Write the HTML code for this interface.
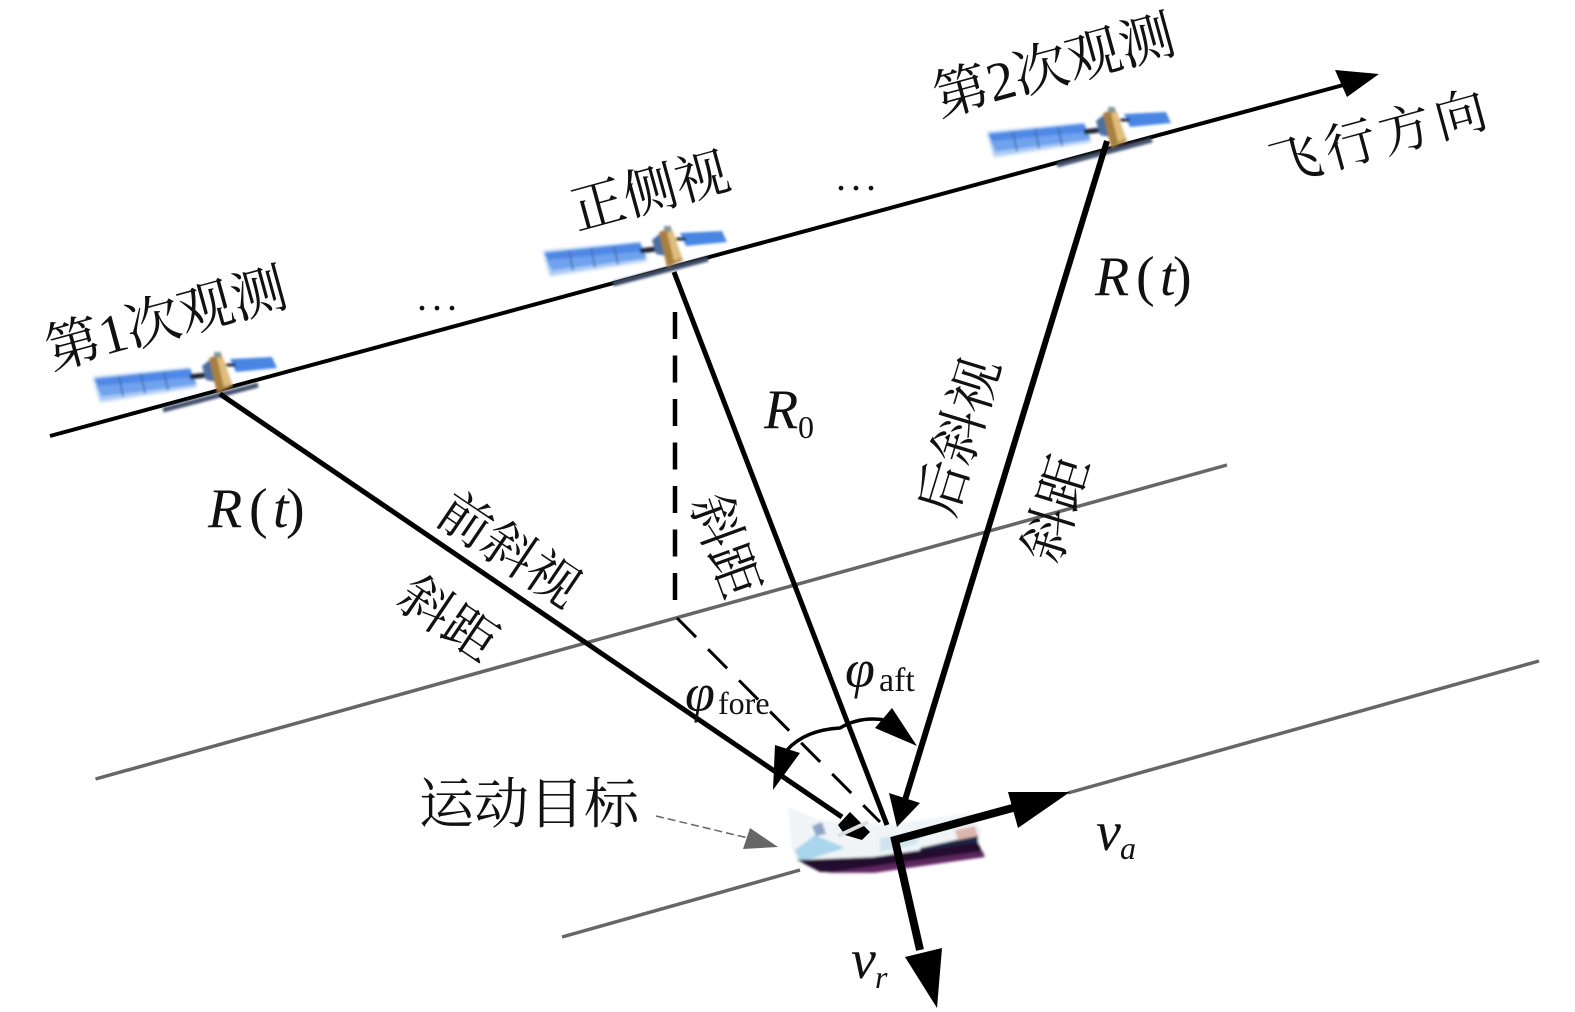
<!DOCTYPE html>
<html><head><meta charset="utf-8"><style>
html,body{margin:0;padding:0;background:#fff}
svg{display:block}
text{font-family:"Liberation Serif","Noto Serif CJK SC",serif;fill:#111}
.c{font-size:54px;text-anchor:middle}
.m{font-size:56px;font-style:italic}
.s{font-size:32px;font-style:italic}
.r{font-size:32px;font-style:normal}
.n{font-style:normal}
</style></head><body>
<svg width="1575" height="1012" viewBox="0 0 1575 1012" xmlns="http://www.w3.org/2000/svg">
<defs>
<filter id="b" x="-10%" y="-20%" width="120%" height="140%"><feGaussianBlur stdDeviation="1.3"/></filter>
<filter id="b3" x="-10%" y="-20%" width="120%" height="140%"><feGaussianBlur stdDeviation="1.8"/></filter>
<g id="sat">
<polygon points="93,377 190,368 197,387 100,402" fill="#a9c8f3" filter="url(#b3)"/>
<g filter="url(#b)">
<polygon points="95,379 190,369 196,384 102,396" fill="#4f88e6"/>
<polygon points="97,386 194,377 196,384 102,396" fill="#6fa2ee"/>
<line x1="119" y1="377" x2="123" y2="396" stroke="#3f6aa8" stroke-width="1.5"/>
<line x1="141" y1="374" x2="145" y2="393" stroke="#3f6aa8" stroke-width="1.5"/>
<line x1="164" y1="372" x2="168" y2="390" stroke="#3f6aa8" stroke-width="1.5"/>
<polygon points="230,359 272,357 277,368 236,372" fill="#4a86e4"/>
<line x1="190" y1="377" x2="206" y2="375" stroke="#1a2230" stroke-width="5"/>
<line x1="226" y1="365" x2="236" y2="365" stroke="#1a2230" stroke-width="3"/>
<polygon points="202,366 212,358 216,382 206,380" fill="#4d6f9e"/>
<polygon points="209,358 221,354 233,386 217,393" fill="#a87f3c"/>
<polygon points="217,358 223,357 232,384 224,387" fill="#e0bd7c"/>
<rect x="214" y="352" width="7" height="5" fill="#7f9a9a"/>
<line x1="163" y1="410" x2="258" y2="385" stroke="#3f4f6a" stroke-width="5"/>
</g>
</g>
</defs>

<!-- gray ground lines -->
<g stroke="#666" stroke-width="3.5" fill="none">
<line x1="95.5" y1="779" x2="1227" y2="465"/>
<line x1="562" y1="937" x2="800" y2="870"/>
<line x1="1068" y1="793" x2="1539" y2="661"/>
</g>

<!-- ship -->
<g filter="url(#b)">
<polygon points="788,807 820,820 887,825 970,813 982,830 978,850 797,863 792,850" fill="#f0f4f7"/>
<polygon points="795,850 815,835 845,848 800,862" fill="#a9d6ec"/>
<polygon points="812,826 822,822 826,834 816,836" fill="#8ea4c6"/>
<polygon points="880,838 925,832 915,845 880,852" fill="#cfe4ef"/>
<polygon points="920,848 978,835 978,848 920,858" fill="#1c2748"/>
<polygon points="955,830 975,826 978,836 958,840" fill="#dcb6ae"/>
<polygon points="797,860 873,857 978,842 984,857 873,872 820,872" fill="#24102e"/>
<polygon points="875,866 983,851 985,857 875,873 825,873" fill="#6b2a6b" opacity=".8"/>
</g>

<!-- flight line -->
<line x1="50" y1="436" x2="1347" y2="84" stroke="#000" stroke-width="4"/>
<polygon points="1379,74 1335,70 1347,97" fill="#000"/>

<!-- satellites -->
<use href="#sat"/>
<use href="#sat" transform="translate(450,-126)"/>
<use href="#sat" transform="translate(894,-245)"/>

<!-- slant ranges -->
<g stroke="#000" fill="none">
<line x1="220" y1="394" x2="842" y2="817" stroke-width="5"/>
<line x1="674" y1="272" x2="887" y2="825" stroke-width="5"/>
<line x1="1107" y1="141" x2="905" y2="800" stroke-width="6"/>
<line x1="675" y1="312" x2="675" y2="600" stroke-width="4.5" stroke-dasharray="27 16.5"/>
<line x1="677" y1="618" x2="880" y2="822" stroke-width="3" stroke-dasharray="27 17"/>
<path d="M787,750 Q805,730 840,728 Q860,716 885,720" stroke-width="3.5"/>
</g>
<polygon points="889,793 920,803 897,827" fill="#000"/>
<polygon points="773,790 775,745 800,753" fill="#000"/>
<polygon points="917,746 892,708 875,728" fill="#000"/>
<polygon points="850,812 870,832 862,840 845,835 838,825" fill="#000"/>
<line x1="838" y1="836" x2="868" y2="822" stroke="#ddd" stroke-width="4"/>

<!-- velocities -->
<polyline points="1020,806 895,840 920,950" stroke="#000" stroke-width="8" fill="none"/>
<polygon points="1070,792 1008,792 1018,828" fill="#000"/>
<polygon points="937,1008 905,957 942,948" fill="#000"/>

<!-- pointer -->
<line x1="656" y1="816" x2="748" y2="838" stroke="#666" stroke-width="1.5" stroke-dasharray="8 4"/>
<polygon points="778,847 750,828 743,849" fill="#666"/>

<!-- Chinese labels -->
<text class="c" style="font-size:55px" transform="translate(171,337) rotate(-15.3)">第1次观测</text>
<text class="c" transform="translate(655,209) rotate(-15.3)">正侧视</text>
<text class="c" style="font-size:55px" transform="translate(1059,84) rotate(-15.3)">第2次观测</text>
<text class="c" style="font-size:52px;letter-spacing:5px" transform="translate(1385,154) rotate(-15.3)">飞行方向</text>
<text class="c" style="font-size:55px" x="529" y="823">运动目标</text>
<text class="c" style="font-size:53px" transform="translate(499,565) rotate(34)">前斜视</text>
<text class="c" style="font-size:53px" transform="translate(438,634) rotate(34)">斜距</text>
<text class="c" style="font-size:53px" transform="translate(708,552) rotate(70)">斜距</text>
<text class="c" transform="translate(977,442) rotate(-73)">后斜视</text>
<text class="c" transform="translate(1074,514) rotate(-73)">斜距</text>

<!-- dots -->
<text x="417" y="310" font-size="40" style="letter-spacing:5px">...</text>
<text x="836" y="190" font-size="40" style="letter-spacing:5px">...</text>

<!-- math labels -->
<text class="m" y="527"><tspan x="208">R</tspan><tspan x="249" class="n">(</tspan><tspan x="273">t</tspan><tspan x="286" class="n">)</tspan></text>
<text class="m" y="295"><tspan x="1095">R</tspan><tspan x="1136" class="n">(</tspan><tspan x="1160">t</tspan><tspan x="1173" class="n">)</tspan></text>
<text class="m" x="764" y="428">R</text><text class="r" x="798" y="438">0</text>
<text class="m" x="1096" y="850">v</text><text class="s" x="1120" y="859">a</text>
<text class="m" x="851" y="978">v</text><text class="s" x="875" y="988">r</text>
<text class="m" x="685" y="711" style="font-size:54px">φ</text><text class="r" x="718" y="714">fore</text>
<text class="m" x="845" y="687" style="font-size:54px">φ</text><text class="r" x="879" y="691" style="font-size:34px">aft</text>
</svg>
</body></html>
